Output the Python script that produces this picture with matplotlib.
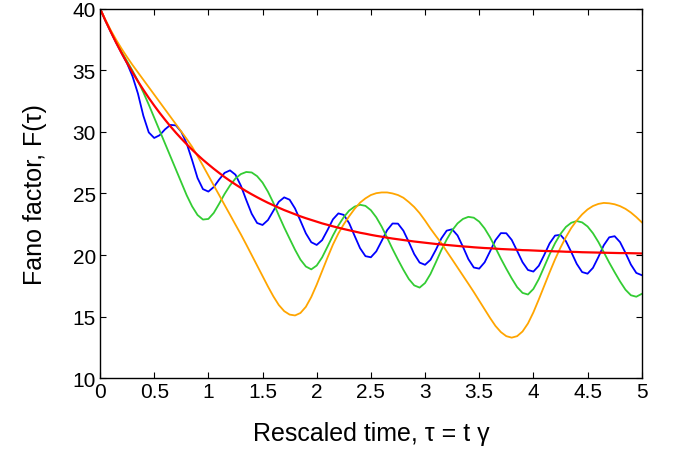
import numpy as np
import matplotlib
matplotlib.use("Agg")
import matplotlib.pyplot as plt

plt.rcParams["font.family"] = ["Liberation Sans", "DejaVu Sans"]

# rescaled time grid, step 0.05 from 0 to 5
tau = np.round(np.arange(101) * 0.05, 2)

# Fano factor curves
red = [40.00, 39.02, 38.10, 37.21, 36.37, 35.58, 34.82, 34.09, 33.41, 32.75,
       32.13, 31.54, 30.98, 30.44, 29.93, 29.45, 28.99, 28.55, 28.13, 27.73,
       27.36, 27.00, 26.66, 26.33, 26.02, 25.73, 25.45, 25.18, 24.93, 24.69,
       24.46, 24.24, 24.04, 23.84, 23.65, 23.48, 23.31, 23.14, 22.99, 22.85,
       22.71, 22.57, 22.45, 22.33, 22.22, 22.11, 22.01, 21.91, 21.81, 21.73,
       21.64, 21.56, 21.49, 21.41, 21.34, 21.28, 21.22, 21.16, 21.10, 21.05,
       21.00, 20.95, 20.90, 20.86, 20.82, 20.78, 20.74, 20.70, 20.67, 20.63,
       20.60, 20.57, 20.55, 20.52, 20.49, 20.47, 20.45, 20.43, 20.40, 20.39,
       20.37, 20.35, 20.33, 20.32, 20.30, 20.29, 20.27, 20.26, 20.25, 20.23,
       20.22, 20.21, 20.20, 20.19, 20.18, 20.17, 20.16, 20.16, 20.15, 20.14,
       20.13]

blue = [40.00, 39.02, 38.10, 37.21, 36.37, 35.55, 34.50, 33.10, 31.30, 29.95,
        29.50, 29.72, 30.20, 30.56, 30.52, 30.00, 29.05, 27.70, 26.25, 25.35,
        25.15, 25.52, 26.13, 26.67, 26.87, 26.52, 25.63, 24.46, 23.35, 22.60,
        22.44, 22.84, 23.59, 24.32, 24.68, 24.49, 23.78, 22.78, 21.76, 21.04,
        20.82, 21.21, 22.03, 22.90, 23.38, 23.26, 22.58, 21.56, 20.56, 19.91,
        19.82, 20.30, 21.15, 22.02, 22.56, 22.55, 21.98, 21.06, 20.08, 19.39,
        19.21, 19.61, 20.43, 21.34, 21.98, 22.09, 21.59, 20.67, 19.67, 18.99,
        18.90, 19.41, 20.30, 21.21, 21.78, 21.77, 21.23, 20.34, 19.42, 18.79,
        18.66, 19.13, 20.01, 20.95, 21.58, 21.64, 21.13, 20.24, 19.29, 18.62,
        18.49, 18.96, 19.84, 20.80, 21.44, 21.53, 21.05, 20.18, 19.23, 18.55,
        18.37]

green = [40.00, 39.03, 38.13, 37.28, 36.48, 35.72, 34.95, 34.12, 33.20, 32.20,
         31.15, 30.10, 29.05, 28.00, 26.95, 25.90, 24.85, 23.95, 23.25, 22.88,
         22.93, 23.42, 24.17, 24.96, 25.65, 26.21, 26.57, 26.74, 26.70, 26.40,
         25.88, 25.14, 24.24, 23.22, 22.24, 21.33, 20.43, 19.63, 19.07, 18.84,
         19.15, 19.81, 20.69, 21.59, 22.40, 23.08, 23.61, 23.93, 24.08, 23.99,
         23.64, 23.06, 22.30, 21.41, 20.49, 19.63, 18.81, 18.06, 17.54, 17.36,
         17.73, 18.46, 19.41, 20.39, 21.26, 22.00, 22.57, 22.93, 23.10, 23.03,
         22.71, 22.16, 21.44, 20.59, 19.71, 18.89, 18.11, 17.40, 16.93, 16.80,
         17.25, 18.05, 19.05, 20.06, 20.96, 21.71, 22.28, 22.62, 22.76, 22.65,
         22.32, 21.77, 21.06, 20.23, 19.39, 18.61, 17.86, 17.19, 16.74, 16.62,
         16.85]

orange = [40.00, 39.08, 38.23, 37.45, 36.73, 36.06, 35.42, 34.82, 34.22, 33.62,
          33.02, 32.42, 31.82, 31.22, 30.62, 30.02, 29.42, 28.78, 28.04, 27.25,
          26.45, 25.65, 24.86, 24.06, 23.27, 22.47, 21.68, 20.85, 20.00, 19.15,
          18.30, 17.45, 16.65, 15.95, 15.45, 15.17, 15.10, 15.30, 15.80, 16.60,
          17.60, 18.70, 19.80, 20.85, 21.75, 22.50, 23.15, 23.75, 24.25, 24.60,
          24.87, 25.02, 25.08, 25.08, 25.00, 24.87, 24.65, 24.30, 23.90, 23.40,
          22.80, 22.15, 21.55, 20.97, 20.30, 19.65, 18.99, 18.33, 17.67, 17.00,
          16.30, 15.60, 14.90, 14.25, 13.75, 13.42, 13.30, 13.42, 13.80, 14.45,
          15.35, 16.40, 17.50, 18.60, 19.65, 20.60, 21.45, 22.20, 22.80, 23.30,
          23.70, 23.98, 24.15, 24.23, 24.20, 24.12, 23.97, 23.75, 23.45, 23.08,
          22.66]

fig = plt.figure(figsize=(6.74, 4.52), dpi=100)
ax = fig.add_axes([0.1484, 0.1608, 0.8037, 0.8181])

ax.plot(tau, blue, color="#0000ff", lw=1.3)
ax.plot(tau, green, color="#33cc33", lw=1.3)
ax.plot(tau, orange, color="#ffa500", lw=1.3)
ax.plot(tau, red, color="#ff0000", lw=1.6)

ax.set_xlim(0, 5)
ax.set_ylim(10, 40)
ax.set_xticks(np.arange(0, 5.01, 0.5))
ax.set_xticklabels(["0", "0.5", "1", "1.5", "2", "2.5", "3", "3.5", "4", "4.5", "5"])
ax.set_yticks(range(10, 41, 5))
ax.tick_params(direction="in", top=True, right=True, length=4, width=0.8,
               labelsize=15, pad=3)
for s in ax.spines.values():
    s.set_linewidth(1.0)

ax.set_xlabel("Rescaled time, \u03c4 = t \u03b3", fontsize=18, labelpad=14)
ax.set_ylabel("Fano factor, F(\u03c4)", fontsize=18, labelpad=18)

fig.savefig("out.png", dpi=100)
